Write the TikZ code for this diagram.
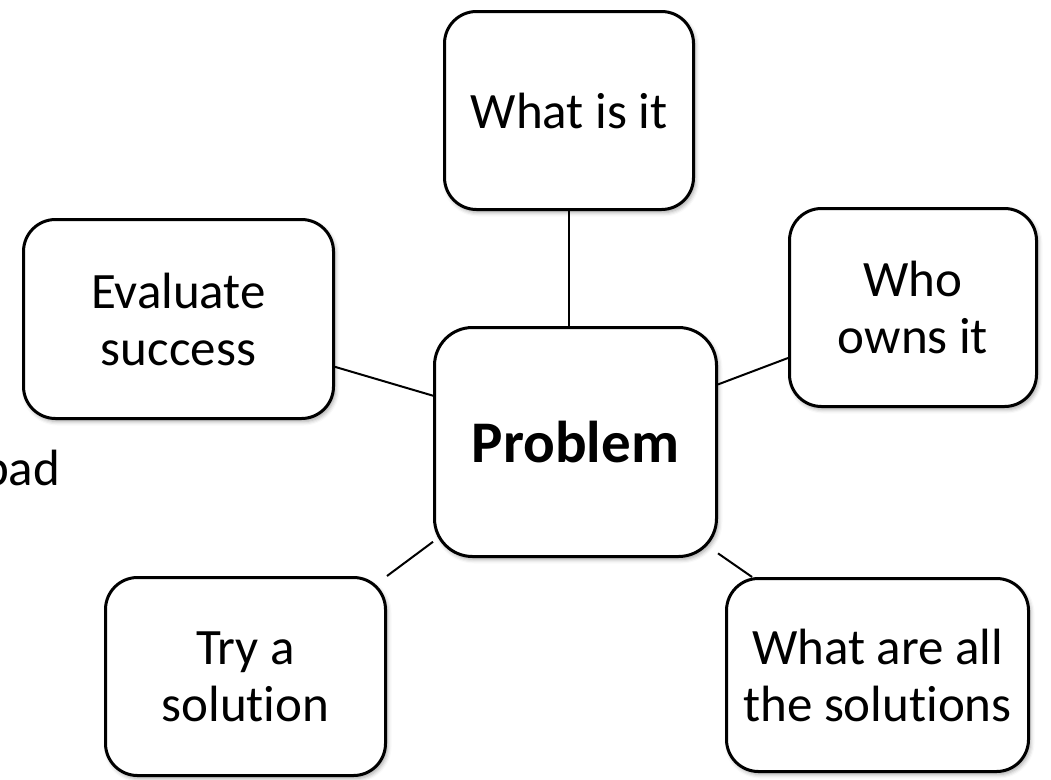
\documentclass[tikz,border=0pt]{standalone}
\usepackage{fontspec}
\setmainfont[Ligatures=NoCommon]{Carlito}
\usetikzlibrary{shadows.blur}
\begin{document}
\begin{tikzpicture}[x=1pt,y=-1pt,
  box/.style={draw=black, line width=3pt, fill=white, rounded corners=#1,
    inner sep=0pt, align=center, font=\fontsize{51}{57}\selectfont,
    blur shadow={shadow xshift=2pt, shadow yshift=-3pt, shadow blur radius=4pt, shadow opacity=35}},
  box/.default=32pt,
  link/.style={draw=black, line width=2pt}]
\useasboundingbox (0,0) rectangle (1051,779);
\clip (0,0) rectangle (1051,779);
\node[box, minimum width=249pt, minimum height=198pt] (what) at (569,110.5) {What is it};
\node[box, minimum width=310pt, minimum height=199pt] (eval) at (178.5,319) {Evaluate\\success};
\node[box, minimum width=247pt, minimum height=198pt] (who) at (913,307.5) {Who\\owns it};
\node[box=38pt, minimum width=282pt, minimum height=229pt, font=\fontsize{59}{66}\selectfont\bfseries] (prob) at (575.5,442) {Problem};
\node[box, minimum width=280pt, minimum height=198pt] (try) at (245.5,676.5) {Try a\\solution};
\node[box, minimum width=302pt, minimum height=193pt] (all) at (877.5,675) {What are all\\the solutions};
\node[anchor=base west, inner sep=0pt, font=\fontsize{51}{57}\selectfont] (bad) at (-18,485) {bad};
\draw[link] (what.south) -- (what.south |- prob.north);
\draw[link] (eval.-17.4) -- (prob.162.5);
\draw[link] (who.-158.4) -- (prob.22.2);
\draw[link] (try.north east) -- (prob.215.2);
\draw[link] (all.142.9) -- (prob.-38.1);
\end{tikzpicture}
\end{document}
